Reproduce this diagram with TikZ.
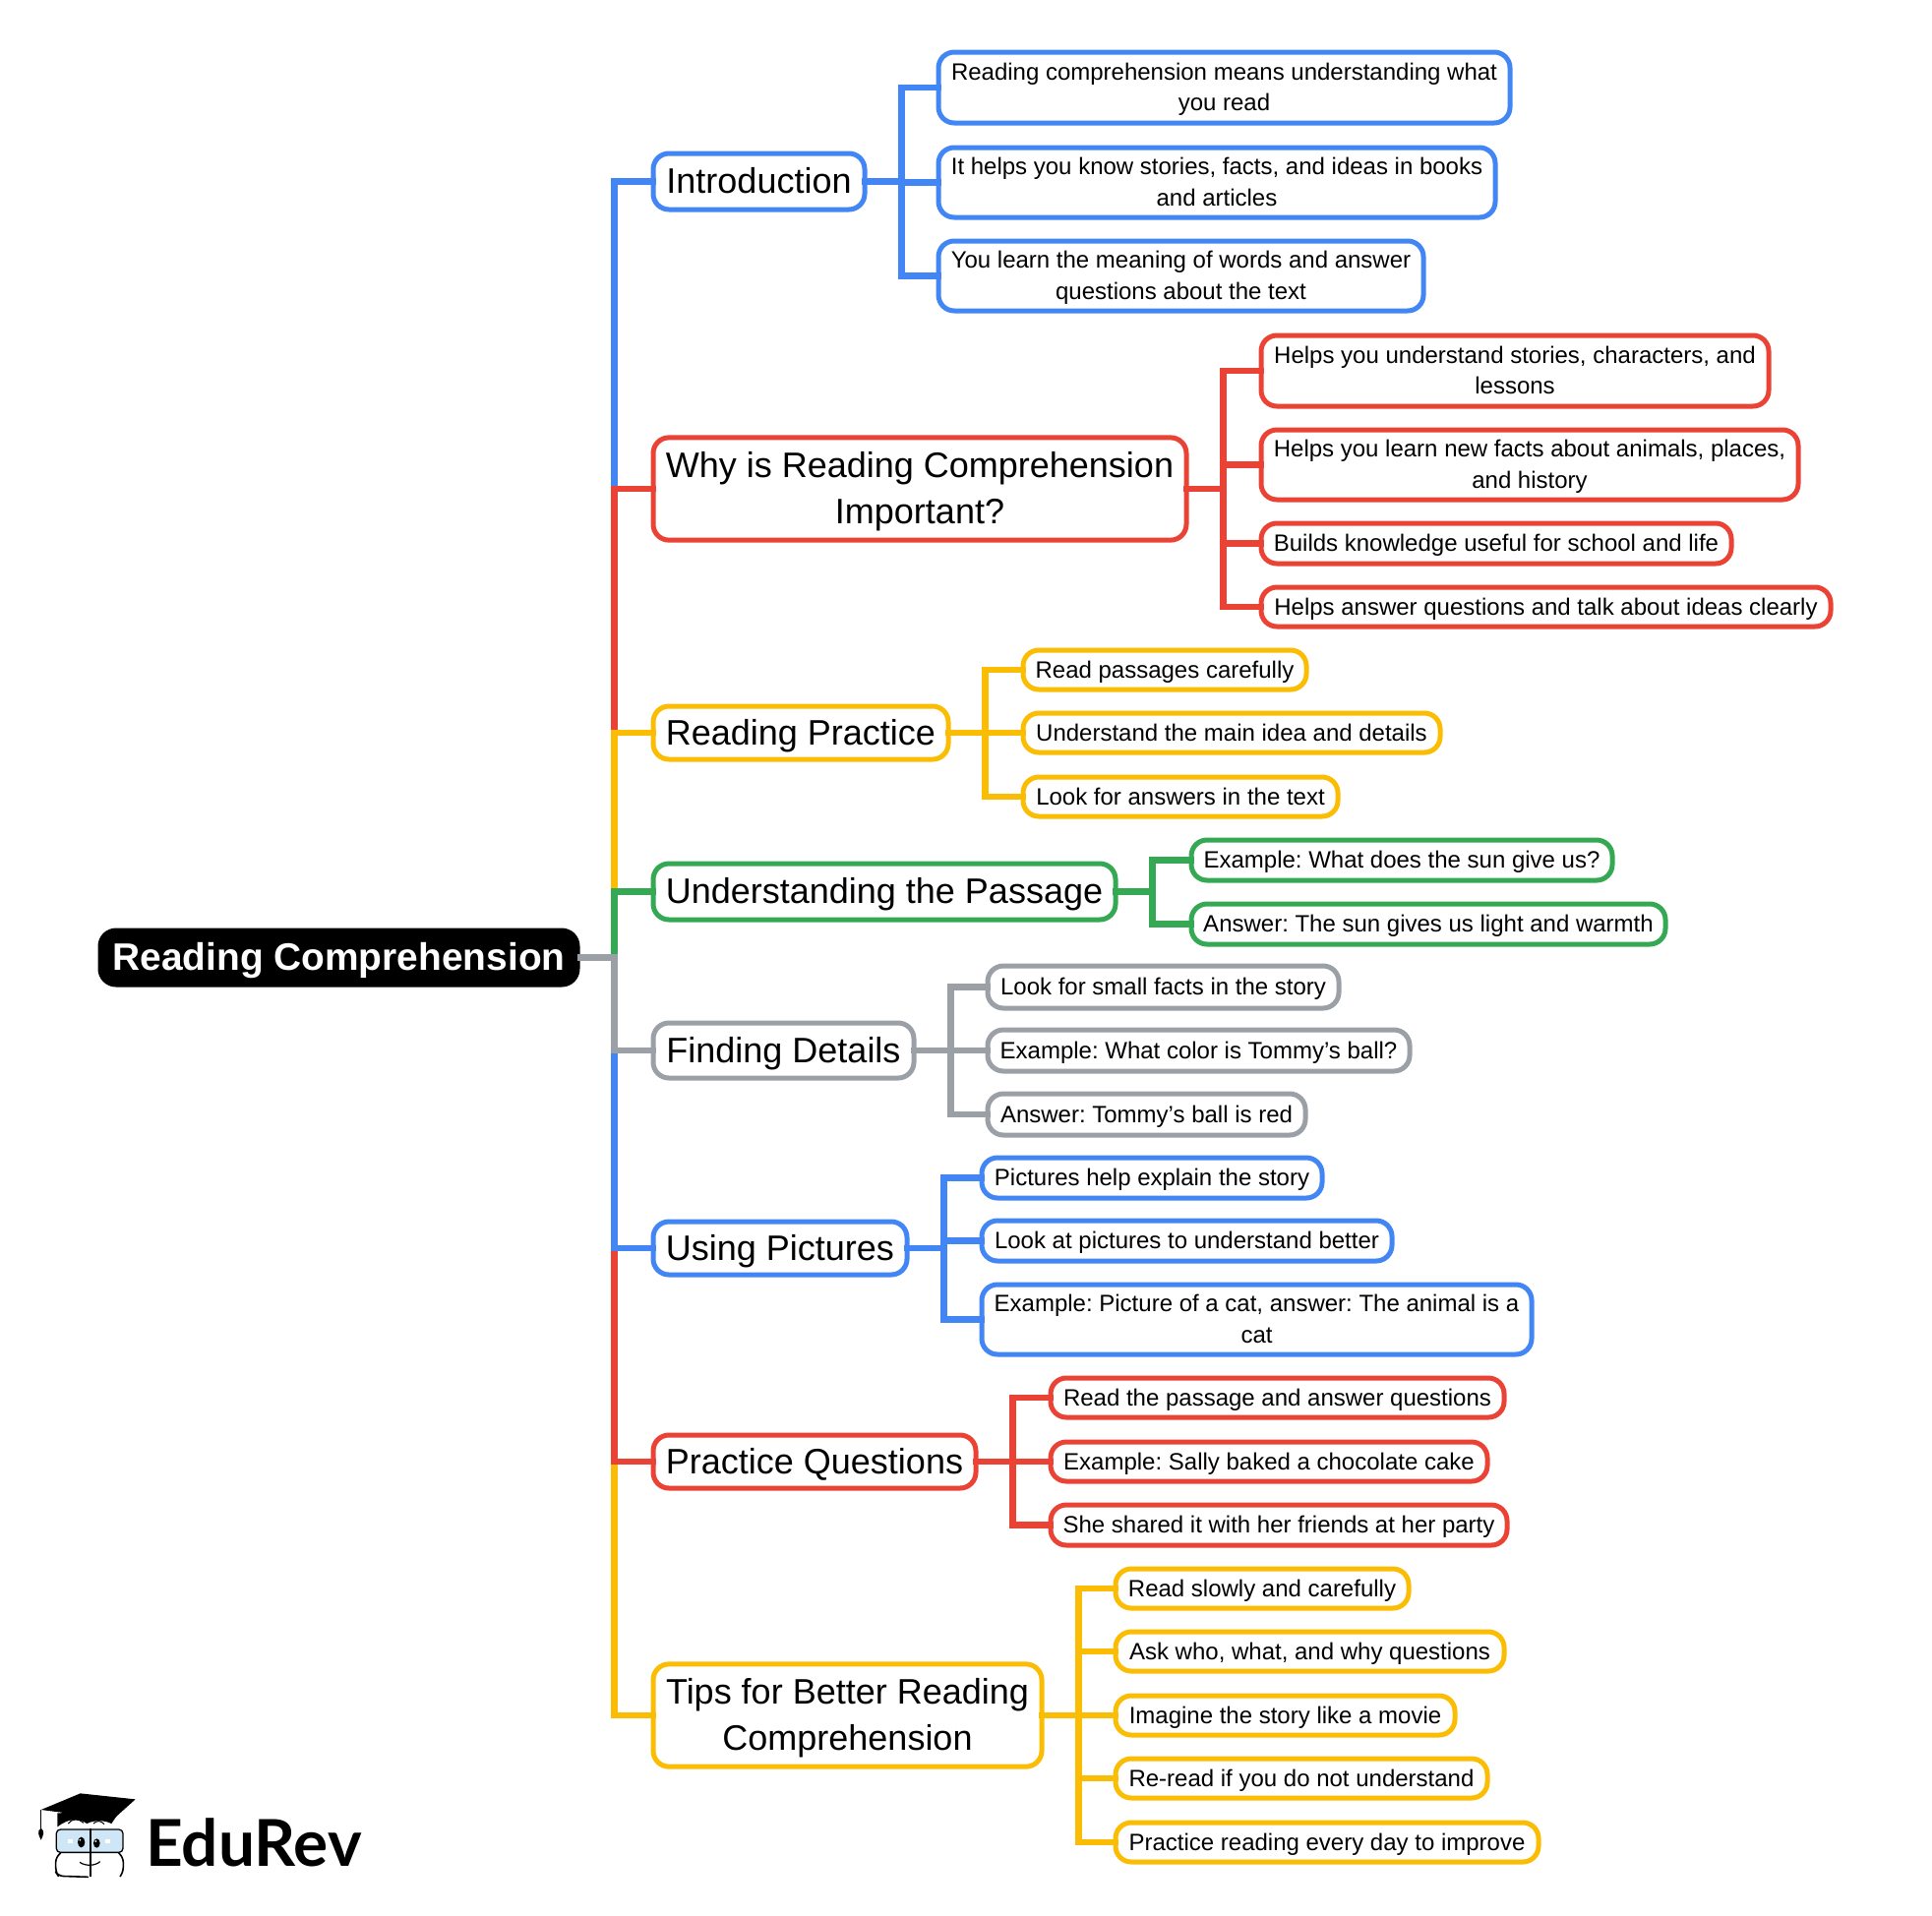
\documentclass[tikz,border=0pt]{standalone}
\usepackage{fontspec}
\setmainfont{Liberation Sans}
\newfontfamily\logofont{Lato}
\definecolor{cblue}{HTML}{4285F4}
\definecolor{cred}{HTML}{EA4335}
\definecolor{cyel}{HTML}{FBBC04}
\definecolor{cgreen}{HTML}{34A853}
\definecolor{cgray}{HTML}{9AA0A6}
\definecolor{cglass}{HTML}{CFE6F7}
\newcommand{\topstrut}{\rule{0pt}{1em}}
\newcommand{\botstrut}{\rule[-.32em]{0pt}{.32em}}
\newcommand{\twoup}{\rule{0pt}{1.13em}}
\newcommand{\twodn}{\rule[-.46em]{0pt}{.46em}}
\tikzset{
  boxbase/.style={rectangle,rounded corners=16pt,line width=5pt,inner sep=0pt,outer sep=0pt,align=center,text=black,fill=white,
    execute at begin node=\frenchspacing\topstrut,execute at end node=\botstrut},
  smallbox/.style={boxbase,font=\fontsize{24}{31.5}\selectfont},
  bigbox/.style={boxbase,font=\fontsize{36}{47}\selectfont},
  rootbox/.style={boxbase,fill=black,draw=black,text=white,font=\fontsize{38.9}{48}\selectfont\bfseries},
  linkline/.style={line width=6.5pt,line join=miter,line cap=butt},
}
\newcommand{\nb}[7]{\node[#6,draw=#7,minimum width={#4-#2-4},minimum height={#5-#3-4}] (#1) at ({(#2+#4)/2},{(#3+#5)/2})}
\newcommand{\mainlink}[2]{\draw[linkline,#2,shorten >=-3pt] (root.east) -- ++(37.5,0) |- (#1.west);}
\newcommand{\sublink}[3]{\draw[linkline,#3,shorten >=-3pt,shorten <=-3pt] (#1.east) -- ++(37.5,0) |- (#2.west);}
\begin{document}
\begin{tikzpicture}[x=1pt,y=-1pt]
\useasboundingbox (0,0) rectangle (1964,1947);
% root
\nb{root}{100}{944}{589}{1003}{rootbox}{black} {Reading Comprehension};
% main nodes
\nb{intro}{662}{154}{881}{215}{bigbox}{cblue} {Introduction};
\nb{why}{662}{444}{1208}{550}{bigbox}{cred} {\twoup Why is Reading Comprehension\\Important?\twodn};
\nb{prac}{662}{716}{966}{774}{bigbox}{cyel} {Reading Practice};
\nb{under}{662}{876}{1136}{937}{bigbox}{cgreen} {Understanding the Passage};
\nb{find}{662}{1038}{931}{1098}{bigbox}{cgray} {Finding Details};
\nb{pics}{662}{1240}{924}{1298}{bigbox}{cblue} {Using Pictures};
\nb{ques}{662}{1457}{994}{1515}{bigbox}{cred} {Practice Questions};
\nb{tips}{662}{1691}{1061}{1797}{bigbox}{cyel} {\twoup Tips for Better Reading\\Comprehension\twodn};
% intro children
\nb{ia}{952}{51}{1537}{127}{smallbox}{cblue} {\twoup Reading comprehension means understanding what\\you read\twodn};
\nb{ib}{952}{148}{1522}{223}{smallbox}{cblue} {\twoup It helps you know stories, facts, and ideas in books\\and articles\twodn};
\nb{ic}{952}{243}{1449}{318}{smallbox}{cblue} {\twoup You learn the meaning of words and answer\\questions about the text\twodn};
% why children
\nb{wa}{1280}{339}{1800}{415}{smallbox}{cred} {\twoup Helps you understand stories, characters, and\\lessons\twodn};
\nb{wb}{1280}{435}{1830}{510}{smallbox}{cred} {\twoup Helps you learn new facts about animals, places,\\and history\twodn};
\nb{wc}{1280}{530}{1762}{575}{smallbox}{cred} {Builds knowledge useful for school and life};
\nb{wd}{1280}{595}{1863}{639}{smallbox}{cred} {Helps answer questions and talk about ideas clearly};
% practice children
\nb{pa}{1038}{659}{1330}{703}{smallbox}{cyel} {Read passages carefully};
\nb{pb}{1038}{723}{1466}{767}{smallbox}{cyel} {Understand the main idea and details};
\nb{pc}{1038}{788}{1362}{832}{smallbox}{cyel} {Look for answers in the text};
% understanding children
\nb{ua}{1209}{852}{1641}{897}{smallbox}{cgreen} {Example: What does the sun give us?};
\nb{ub}{1209}{917}{1695}{962}{smallbox}{cgreen} {Answer: The sun gives us light and warmth};
% details children
\nb{fa}{1002}{980}{1363}{1027}{smallbox}{cgray} {Look for small facts in the story};
\nb{fb}{1002}{1045}{1435}{1091}{smallbox}{cgray} {Example: What color is Tommy’s ball?};
\nb{fc}{1002}{1110}{1329}{1156}{smallbox}{cgray} {Answer: Tommy’s ball is red};
% pictures children
\nb{ga}{996}{1175}{1346}{1220}{smallbox}{cblue} {Pictures help explain the story};
\nb{gb}{996}{1239}{1417}{1284}{smallbox}{cblue} {Look at pictures to understand better};
\nb{gc}{996}{1304}{1559}{1379}{smallbox}{cblue} {\twoup Example: Picture of a cat, answer: The animal is a\\cat\twodn};
% questions children
\nb{qa}{1066}{1399}{1531}{1443}{smallbox}{cred} {Read the passage and answer questions};
\nb{qb}{1066}{1464}{1514}{1508}{smallbox}{cred} {Example: Sally baked a chocolate cake};
\nb{qc}{1066}{1528}{1534}{1573}{smallbox}{cred} {She shared it with her friends at her party};
% tips children
\nb{ta}{1132}{1593}{1434}{1637}{smallbox}{cyel} {Read slowly and carefully};
\nb{tb}{1132}{1657}{1531}{1701}{smallbox}{cyel} {Ask who, what, and why questions};
\nb{tc}{1132}{1722}{1481}{1766}{smallbox}{cyel} {Imagine the story like a movie};
\nb{td}{1132}{1786}{1514}{1830}{smallbox}{cyel} {Re-read if you do not understand};
\nb{te}{1132}{1851}{1566}{1895}{smallbox}{cyel} {Practice reading every day to improve};
% main links, farthest first
\mainlink{intro}{cblue}
\mainlink{why}{cred}
\mainlink{prac}{cyel}
\mainlink{under}{cgreen}
\mainlink{tips}{cyel}
\mainlink{ques}{cred}
\mainlink{pics}{cblue}
\mainlink{find}{cgray}
% sub links
\sublink{intro}{ia}{cblue}\sublink{intro}{ib}{cblue}\sublink{intro}{ic}{cblue}
\sublink{why}{wa}{cred}\sublink{why}{wb}{cred}\sublink{why}{wc}{cred}\sublink{why}{wd}{cred}
\sublink{prac}{pa}{cyel}\sublink{prac}{pb}{cyel}\sublink{prac}{pc}{cyel}
\sublink{under}{ua}{cgreen}\sublink{under}{ub}{cgreen}
\sublink{find}{fa}{cgray}\sublink{find}{fb}{cgray}\sublink{find}{fc}{cgray}
\sublink{pics}{ga}{cblue}\sublink{pics}{gb}{cblue}\sublink{pics}{gc}{cblue}
\sublink{ques}{qa}{cred}\sublink{ques}{qb}{cred}\sublink{ques}{qc}{cred}
\sublink{tips}{ta}{cyel}\sublink{tips}{tb}{cyel}\sublink{tips}{tc}{cyel}\sublink{tips}{td}{cyel}\sublink{tips}{te}{cyel}
% logo
\node[anchor=base west,inner sep=0pt,font=\fontsize{65.7}{66}\logofont\bfseries] (logotext) at (148,1897) {EduRev};
\begin{scope}[shift={(0,1780)},x=0.3333pt,y=-0.3333pt,line join=round]
  \fill[black] (125,180) -- (245,130) -- (413,148) -- (335,218) -- (250,196) -- cycle;
  \fill[black] (175,190) -- (175,232) .. controls (210,205) and (240,205) .. (265,222) .. controls (290,210) and (320,212) .. (340,222) -- (365,185) -- cycle;
  \draw[black,line width=1.3pt] (125,180) -- (125,240);
  \fill[black] (125,236) .. controls (112,245) and (118,258) .. (125,272) .. controls (132,258) and (138,245) .. (125,236) -- cycle;
  \draw[black,line width=1.3pt,fill=cglass,rounded corners=4pt] (172,240) rectangle (375,310);
  \draw[black,line width=1.6pt,rounded corners=5pt] (185,312) -- (170,325) -- (170,370) -- (178,382) -- (270,385);
  \draw[black,line width=1.6pt,rounded corners=5pt] (362,312) -- (376,325) -- (376,370) -- (366,384);
  \draw[black,line width=2pt] (275,238) -- (275,385);
  \draw[black,line width=1pt] (208,222) .. controls (220,206) and (240,206) .. (255,220);
  \draw[black,line width=1pt] (285,222) .. controls (295,212) and (308,212) .. (318,224);
  \fill[black] (248,279) ellipse (11 and 16);
  \fill[black] (295,282) ellipse (10 and 14);
  \fill[white] (244,272) circle (3);
  \fill[white] (292,276) circle (3);
  \fill[white] (207,270) rectangle (222,282);
  \fill[white] (320,270) rectangle (335,282);
  \draw[black,line width=1.2pt] (243,340) .. controls (260,352) and (290,352) .. (305,338);
\end{scope}
\end{tikzpicture}
\end{document}
